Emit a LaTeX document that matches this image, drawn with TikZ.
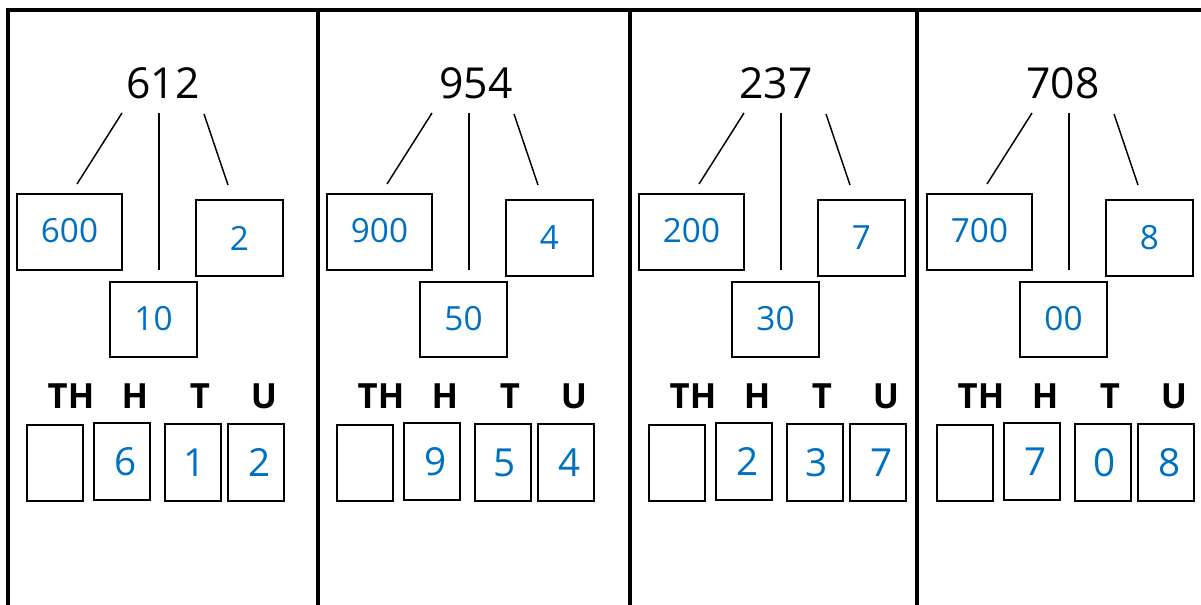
\documentclass[tikz,border=0pt]{standalone}
\usepackage{fontspec}
\setmainfont{Open Sans}
\definecolor{numblue}{HTML}{0070C0}
\begin{document}
\begin{tikzpicture}[x=0.75pt,y=-0.75pt,
  frame/.style={line width=3pt},
  conn/.style={line width=1.1pt},
  partbox/.style={draw,line width=1.5pt,inner sep=0pt,text=numblue,font=\fontsize{25}{30}\selectfont},
  pvbox/.style={draw,line width=1.5pt,inner sep=0pt,minimum width=42pt,minimum height=57.5pt,text=numblue,font=\fontsize{29}{34}\selectfont},
  title/.style={inner sep=0pt,font=\fontsize{32}{38}\selectfont},
  pvlabel/.style={inner sep=0pt,font=\bfseries\fontsize{26}{31}\selectfont}]
\useasboundingbox (0,0) rectangle (1201,605);
% frame
\coordinate (fbl) at (7.5,605);
\coordinate (ftl) at (7.5,10.5);
\coordinate (ftr) at (1201,10.5);
\draw[frame] (fbl) -- (ftl) -- (ftr);
\foreach \xx [count=\k] in {317.5,629.5,916.5}{
  \coordinate (dtop-\k) at (\xx,10.5);
  \coordinate (dbot-\k) at (\xx,605);
  \draw[frame] (dtop-\k) -- (dbot-\k);
}
\foreach \dx/\num/\tx/\aa/\bb/\cc/\hd/\td/\ud [count=\i] in
 {0/612/163/600/10/2/6/1/2, 310/954/166/900/50/4/9/5/4, 622/237/154/200/30/7/2/3/7, 910/708/153/700/00/8/7/0/8}{
 \begin{scope}[xshift={\dx*0.75pt}]
  \node[title] (title-\i) at (\tx,83) {\num};
  \node[partbox,minimum width=78.75pt,minimum height=57pt] (big-\i) at (69.5,232) {\raisebox{3pt}{\aa}};
  \node[partbox,minimum width=65.25pt,minimum height=57pt] (small-\i) at (239.5,238) {\cc};
  \node[partbox,minimum width=65.25pt,minimum height=56.25pt] (mid-\i) at (153.5,319.5) {\raisebox{2pt}{\bb}};
  % connectors
  \coordinate (la-\i) at (122,113); \coordinate (lb-\i) at (77,184);
  \coordinate (ma-\i) at (159,113); \coordinate (mb-\i) at (159,270);
  \coordinate (ra-\i) at (204,114); \coordinate (rb-\i) at (228,185);
  \draw[conn] (la-\i) -- (lb-\i);
  \draw[conn] (ma-\i) -- (mb-\i);
  \draw[conn] (ra-\i) -- (rb-\i);
  % place value labels
  \node[pvlabel] (lth-\i) at (71,396) {TH};
  \node[pvlabel] (lh-\i) at (135,396) {H};
  \node[pvlabel] (lt-\i) at (200,396) {T};
  \node[pvlabel] (lu-\i) at (264,396) {U};
  % place value boxes
  \node[pvbox] (pth-\i) at (55,463) {};
  \node[pvbox] (ph-\i) at (122,461.5) {\hspace{6pt}\hd};
  \node[pvbox] (pt-\i) at (193,462.5) {\hspace{3pt}\td};
  \node[pvbox] (pu-\i) at (256,462.5) {\hspace{5pt}\ud};
 \end{scope}
}
\end{tikzpicture}
\end{document}
